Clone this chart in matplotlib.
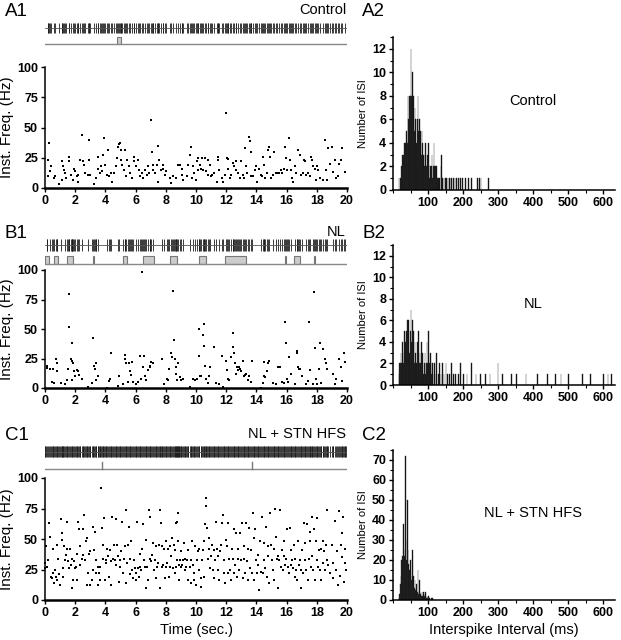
import matplotlib.pyplot as plt
from matplotlib.patches import Rectangle
from matplotlib.ticker import MultipleLocator

plt.rcParams['font.family'] = ['Liberation Sans', 'DejaVu Sans']

# instantaneous frequency points (time s, Hz)
ctrl_pts = [
    (0.17, 10), (0.22, 23), (0.26, 37), (0.33, 14), (0.4, 18), (0.6, 8), (0.65, 10), (0.9, 3), (1.1, 7),
    (1.13, 22), (1.2, 18), (1.24, 15), (1.3, 12), (1.4, 8), (1.57, 26), (1.6, 22), (1.7, 11), (1.85, 7),
    (1.9, 16), (2.0, 14), (2.13, 10), (2.17, 5), (2.2, 11), (2.35, 23), (2.43, 44), (2.5, 22), (2.6, 19),
    (2.67, 12), (2.83, 11), (2.9, 40), (2.93, 23), (3.0, 11), (3.26, 3), (3.37, 8), (3.48, 16), (3.54, 26),
    (3.63, 12), (3.7, 18), (3.8, 14), (3.87, 27), (3.9, 41), (3.96, 19), (4.1, 11), (4.17, 31), (4.24, 10),
    (4.35, 12), (4.46, 5), (4.57, 12), (4.67, 18), (4.74, 25), (4.83, 34), (4.9, 36), (4.96, 37), (5.0, 31),
    (5.04, 23), (5.1, 19), (5.2, 15), (5.33, 31), (5.37, 10), (5.43, 23), (5.54, 18), (5.65, 12), (5.76, 8),
    (5.87, 26), (5.9, 22), (6.04, 18), (6.13, 23), (6.2, 15), (6.3, 10), (6.4, 12), (6.5, 8), (6.63, 15),
    (6.74, 11), (6.8, 18), (6.9, 12), (7.0, 56), (7.07, 30), (7.13, 19), (7.17, 15), (7.28, 12), (7.4, 19),
    (7.46, 35), (7.5, 5), (7.57, 23), (7.65, 15), (7.8, 16), (7.83, 19), (7.93, 11), (8.04, 14), (8.26, 8),
    (8.37, 4), (8.48, 10), (8.7, 8), (8.8, 19), (8.95, 19), (9.05, 16), (9.1, 11), (9.16, 7), (9.38, 10),
    (9.5, 19), (9.6, 27), (9.67, 34), (9.71, 8), (9.82, 18), (9.89, 12), (9.98, 7), (10.04, 22), (10.11, 25),
    (10.15, 15), (10.26, 19), (10.33, 16), (10.37, 25), (10.48, 15), (10.6, 25), (10.64, 14), (10.77, 11),
    (10.81, 23), (10.92, 19), (10.99, 10), (11.08, 11), (11.2, 12), (11.36, 5), (11.43, 23), (11.47, 26),
    (11.54, 15), (11.7, 8), (11.8, 5), (11.91, 11), (11.98, 62), (12.02, 25), (12.09, 24), (12.13, 16),
    (12.24, 8), (12.35, 11), (12.46, 21), (12.53, 18), (12.64, 15), (12.68, 22), (12.79, 12), (12.9, 8),
    (12.97, 22), (13.12, 11), (13.19, 8), (13.23, 33), (13.34, 18), (13.41, 12), (13.49, 42), (13.58, 39),
    (13.63, 30), (13.67, 10), (13.78, 10), (13.89, 15), (14.0, 18), (14.07, 5), (14.15, 16), (14.29, 11),
    (14.37, 10), (14.44, 26), (14.51, 19), (14.59, 8), (14.73, 12), (14.77, 31), (14.81, 34), (14.88, 26),
    (14.99, 8), (15.1, 11), (15.16, 30), (15.32, 12), (15.38, 12), (15.47, 12), (15.6, 15), (15.69, 12),
    (15.82, 16), (15.91, 34), (15.98, 25), (16.04, 15), (16.13, 41), (16.2, 23), (16.26, 15), (16.35, 8),
    (16.42, 5), (16.57, 18), (16.64, 12), (16.75, 31), (16.86, 27), (16.97, 11), (17.08, 12), (17.14, 23),
    (17.23, 22), (17.3, 11), (17.41, 12), (17.52, 10), (17.63, 26), (17.67, 23), (17.74, 18), (17.85, 16),
    (17.96, 7), (18.02, 18), (18.11, 15), (18.24, 8), (18.4, 7), (18.55, 40), (18.62, 15), (18.68, 7),
    (18.77, 33), (18.9, 20), (19.0, 34), (19.1, 13), (19.2, 23), (19.3, 8), (19.4, 10), (19.5, 20),
    (19.6, 23), (19.67, 33), (19.9, 13),
]

nl_pts = [
    (0.11, 19), (0.15, 17), (0.33, 16), (0.44, 5), (0.5, 16), (0.59, 4), (0.73, 25), (0.77, 21), (0.81, 14),
    (1.03, 4), (1.32, 3), (1.47, 7), (1.54, 16), (1.58, 80), (1.6, 52), (1.69, 25), (1.76, 38), (1.8, 23),
    (1.83, 21), (1.78, 7), (1.91, 14), (1.98, 10), (2.09, 15), (2.2, 14), (2.27, 11), (2.42, 8), (2.86, 1),
    (3.08, 4), (3.15, 42), (3.23, 19), (3.3, 16), (3.37, 7), (3.41, 21), (3.52, 10), (4.11, 0), (4.25, 6),
    (4.29, 8), (4.4, 30), (4.84, 2), (4.91, 10), (5.17, 3), (5.28, 25), (5.32, 28), (5.39, 21), (5.5, 5),
    (5.57, 21), (5.61, 14), (5.68, 11), (5.79, 22), (5.83, 5), (6.0, 3), (6.16, 5), (6.27, 27), (6.38, 8),
    (6.45, 98), (6.49, 18), (6.56, 27), (6.6, 10), (6.71, 7), (6.82, 15), (6.93, 18), (6.97, 19), (7.04, 22),
    (7.15, 21), (7.77, 25), (7.85, 3), (8.07, 8), (8.14, 7), (8.21, 16), (8.36, 30), (8.43, 26), (8.47, 82),
    (8.51, 41), (8.58, 25), (8.65, 18), (8.69, 12), (8.73, 7), (8.8, 21), (8.91, 9), (9.02, 7), (9.13, 8),
    (9.57, 1), (9.79, 8), (9.95, 7), (10.08, 8), (10.17, 50), (10.23, 27), (10.29, 10), (10.34, 10),
    (10.45, 45), (10.52, 54), (10.56, 36), (10.6, 19), (10.67, 8), (10.78, 4), (10.89, 10), (10.96, 18),
    (11.22, 35), (11.33, 4), (11.55, 3), (11.71, 27), (11.77, 1), (11.99, 23), (12.04, 15), (12.1, 8),
    (12.21, 7), (12.32, 26), (12.43, 47), (12.48, 35), (12.5, 30), (12.56, 21), (12.63, 12), (12.69, 18),
    (12.76, 15), (12.87, 18), (12.94, 16), (12.98, 14), (13.09, 23), (13.16, 10), (13.25, 11), (13.32, 12),
    (13.42, 7), (13.53, 10), (13.64, 5), (13.69, 23), (14.3, 0), (14.41, 4), (14.48, 22), (14.52, 10),
    (14.56, 9), (14.7, 14), (14.74, 21), (14.81, 23), (15.07, 4), (15.29, 3), (15.4, 18), (15.58, 18),
    (15.67, 5), (15.84, 4), (15.89, 56), (15.95, 38), (16.02, 8), (16.06, 5), (16.17, 26), (16.28, 12),
    (16.55, 3), (16.68, 31), (16.72, 30), (16.77, 18), (16.83, 16), (16.9, 16), (17.05, 10), (17.27, 3),
    (17.42, 6), (17.49, 56), (17.56, 15), (17.78, 3), (17.82, 81), (17.87, 34), (17.93, 8), (18.04, 3),
    (18.15, 16), (18.22, 38), (18.31, 4), (18.44, 33), (18.53, 25), (18.59, 21), (18.7, 16), (19.1, 12),
    (19.2, 3), (19.3, 8), (19.5, 25), (19.6, 18), (19.7, 6), (19.8, 30), (19.9, 22),
]

hfs_pts = [
    (0.0, 26), (0.02, 30), (0.07, 44), (0.1, 27), (0.2, 33), (0.29, 63), (0.33, 52), (0.37, 19), (0.44, 18),
    (0.5, 42), (0.55, 22), (0.6, 14), (0.66, 25), (0.73, 19), (0.77, 45), (0.81, 16), (0.88, 34), (0.95, 21),
    (0.99, 12), (1.03, 66), (1.1, 49), (1.12, 55), (1.17, 19), (1.21, 26), (1.25, 44), (1.32, 33), (1.39, 37),
    (1.43, 64), (1.47, 42), (1.54, 32), (1.6, 26), (1.65, 42), (1.69, 29), (1.76, 34), (1.8, 10), (1.87, 16),
    (1.91, 32), (1.98, 26), (2.05, 27), (2.09, 16), (2.13, 38), (2.2, 64), (2.27, 58), (2.31, 44), (2.35, 29),
    (2.42, 34), (2.49, 37), (2.53, 58), (2.57, 70), (2.64, 33), (2.71, 48), (2.75, 12), (2.79, 51), (2.86, 22),
    (2.93, 38), (2.97, 40), (3.01, 12), (3.08, 16), (3.15, 25), (3.19, 60), (3.23, 41), (3.3, 56), (3.37, 22),
    (3.41, 33), (3.48, 12), (3.52, 27), (3.59, 22), (3.63, 16), (3.67, 27), (3.72, 92), (3.76, 59), (3.81, 34),
    (3.85, 45), (3.89, 67), (3.96, 16), (4.03, 33), (4.07, 30), (4.11, 42), (4.18, 36), (4.25, 19), (4.29, 41),
    (4.36, 32), (4.4, 12), (4.47, 68), (4.51, 34), (4.55, 45), (4.62, 33), (4.69, 29), (4.73, 66), (4.77, 45),
    (4.84, 36), (4.91, 15), (4.95, 33), (4.99, 27), (5.06, 40), (5.13, 64), (5.17, 22), (5.21, 34), (5.28, 44),
    (5.35, 14), (5.39, 74), (5.43, 30), (5.5, 45), (5.57, 60), (5.61, 34), (5.65, 21), (5.72, 48), (5.79, 25),
    (5.83, 18), (5.87, 33), (5.94, 26), (6.01, 16), (6.05, 22), (6.09, 64), (6.16, 26), (6.23, 19), (6.27, 38),
    (6.31, 27), (6.38, 25), (6.45, 42), (6.49, 62), (6.53, 33), (6.6, 27), (6.67, 49), (6.71, 10), (6.75, 27),
    (6.82, 16), (6.89, 74), (6.93, 34), (6.97, 68), (7.04, 32), (7.11, 37), (7.15, 47), (7.19, 25), (7.26, 33),
    (7.33, 44), (7.37, 18), (7.41, 27), (7.48, 30), (7.55, 45), (7.59, 10), (7.63, 74), (7.69, 63), (7.72, 27),
    (7.77, 44), (7.81, 29), (7.85, 42), (7.92, 18), (7.99, 48), (8.03, 27), (8.07, 30), (8.14, 42), (8.21, 19),
    (8.25, 44), (8.3, 27), (8.36, 36), (8.43, 51), (8.47, 26), (8.51, 45), (8.58, 22), (8.62, 41), (8.65, 63),
    (8.69, 27), (8.73, 33), (8.76, 64), (8.8, 71), (8.83, 48), (8.85, 16), (8.87, 29), (8.91, 33), (8.98, 27),
    (9.02, 40), (9.07, 29), (9.13, 33), (9.2, 47), (9.24, 25), (9.28, 34), (9.35, 27), (9.42, 33), (9.46, 16),
    (9.5, 41), (9.57, 27), (9.64, 33), (9.68, 14), (9.73, 48), (9.79, 29), (9.86, 22), (9.9, 16), (9.95, 44),
    (10.01, 12), (10.08, 33), (10.12, 40), (10.17, 25), (10.23, 42), (10.3, 11), (10.34, 18), (10.39, 33),
    (10.45, 41), (10.52, 48), (10.56, 19), (10.61, 62), (10.67, 84), (10.69, 77), (10.74, 59), (10.78, 34),
    (10.83, 51), (10.89, 42), (10.96, 26), (11.0, 36), (11.05, 45), (11.11, 25), (11.18, 41), (11.22, 18),
    (11.27, 33), (11.33, 64), (11.4, 42), (11.44, 36), (11.49, 25), (11.55, 16), (11.62, 40), (11.66, 45),
    (11.71, 63), (11.77, 70), (11.84, 22), (11.88, 33), (11.93, 14), (11.99, 49), (12.05, 44), (12.1, 22),
    (12.14, 63), (12.21, 34), (12.27, 25), (12.32, 16), (12.36, 42), (12.43, 34), (12.49, 58), (12.54, 22),
    (12.58, 29), (12.65, 55), (12.71, 19), (12.76, 42), (12.8, 34), (12.87, 25), (12.94, 55), (12.98, 33),
    (13.03, 63), (13.09, 18), (13.16, 44), (13.2, 34), (13.25, 22), (13.31, 63), (13.38, 32), (13.42, 42),
    (13.47, 16), (13.53, 59), (13.6, 26), (13.64, 41), (13.69, 22), (13.75, 71), (13.82, 51), (13.86, 16),
    (13.91, 58), (13.97, 33), (14.04, 22), (14.08, 37), (14.12, 29), (14.19, 8), (14.25, 48), (14.3, 23),
    (14.34, 68), (14.41, 22), (14.48, 33), (14.52, 47), (14.57, 26), (14.63, 60), (14.7, 19), (14.74, 36),
    (14.78, 44), (14.85, 14), (14.92, 71), (14.96, 45), (15.0, 33), (15.07, 25), (15.14, 42), (15.18, 16),
    (15.23, 75), (15.29, 52), (15.36, 34), (15.4, 10), (15.45, 36), (15.51, 33), (15.58, 74), (15.62, 27),
    (15.67, 41), (15.73, 25), (15.8, 36), (15.86, 48), (15.91, 29), (15.98, 34), (16.05, 58), (16.1, 27),
    (16.14, 22), (16.21, 59), (16.27, 29), (16.32, 41), (16.36, 33), (16.43, 26), (16.49, 45), (16.54, 19),
    (16.58, 34), (16.65, 25), (16.71, 16), (16.76, 48), (16.8, 29), (16.87, 33), (16.94, 25), (16.98, 10),
    (17.03, 41), (17.1, 22), (17.14, 63), (17.19, 33), (17.25, 47), (17.31, 25), (17.38, 62), (17.42, 16),
    (17.47, 34), (17.54, 48), (17.58, 56), (17.6, 27), (17.65, 68), (17.71, 36), (17.78, 25), (17.82, 58),
    (17.87, 16), (17.93, 48), (18.0, 33), (18.04, 67), (18.09, 27), (18.15, 41), (18.22, 25), (18.26, 42),
    (18.31, 16), (18.38, 48), (18.44, 30), (18.48, 40), (18.53, 25), (18.59, 45), (18.66, 74), (18.7, 33),
    (18.75, 29), (18.85, 22), (19.0, 45), (19.05, 18), (19.1, 30), (19.2, 65), (19.3, 25), (19.35, 40),
    (19.4, 12), (19.5, 73), (19.55, 20), (19.6, 45), (19.65, 55), (19.7, 35), (19.75, 68), (19.8, 15),
    (19.85, 30), (19.9, 42), (19.95, 25),
]

# burst periods (start s, end s) marked under the spike rasters
ctrl_bursts = [(4.8, 5.0)]
nl_bursts = [(0.0, 0.26), (0.59, 0.86), (1.45, 1.85), (3.17, 3.23), (5.15, 5.41), (6.47, 7.2),
             (8.25, 8.71), (10.2, 10.63), (11.95, 13.33), (15.9, 15.97), (16.5, 16.9), (17.8, 17.9)]
hfs_bursts = [(3.76, 3.76), (13.7, 13.7)]

# ISI histograms: (bin start ms, count), 2 ms bins
ctrl_isi = [
    (16, 1), (20, 1), (24, 2), (26, 3), (28, 3), (30, 2), (32, 4), (34, 4), (36, 3), (38, 5), (40, 4),
    (42, 8), (44, 6), (46, 8), (48, 8), (50, 12), (52, 8), (54, 10), (56, 6), (58, 8), (60, 5), (62, 7),
    (64, 6), (66, 4), (68, 6), (70, 8), (72, 5), (74, 6), (76, 4), (78, 5), (80, 3), (82, 5), (84, 4),
    (86, 3), (88, 2), (90, 3), (92, 4), (94, 2), (96, 2), (98, 3), (100, 4), (102, 2), (104, 1), (106, 2),
    (108, 2), (110, 3), (112, 1), (114, 2), (116, 4), (118, 2), (120, 2), (122, 1), (124, 2), (126, 1),
    (128, 1), (132, 1), (136, 2), (138, 3), (140, 1), (144, 1), (148, 1), (152, 1), (156, 1), (160, 1),
    (164, 1), (166, 1), (172, 1), (176, 1), (180, 1), (186, 1), (192, 1), (198, 1), (206, 1), (214, 1),
    (222, 1), (240, 1), (246, 1), (250, 1), (272, 1),
]

nl_isi = [
    (16, 1), (18, 2), (20, 2), (22, 3), (24, 2), (26, 4), (28, 2), (30, 3), (32, 5), (34, 4), (36, 2),
    (38, 5), (40, 6), (42, 4), (44, 6), (46, 3), (48, 5), (50, 7), (52, 4), (54, 6), (56, 3), (58, 5),
    (60, 2), (62, 4), (64, 3), (66, 2), (68, 4), (70, 3), (72, 5), (74, 2), (76, 3), (78, 2), (80, 4),
    (82, 2), (84, 3), (86, 1), (88, 2), (90, 3), (92, 1), (94, 2), (96, 4), (98, 2), (100, 5), (102, 1),
    (104, 2), (106, 3), (108, 1), (110, 2), (112, 2), (116, 1), (118, 2), (122, 1), (124, 3), (128, 1),
    (132, 2), (136, 1), (140, 2), (144, 1), (150, 2), (154, 1), (160, 1), (166, 2), (172, 1), (178, 1),
    (186, 1), (192, 2), (200, 1), (210, 1), (222, 2), (236, 1), (248, 1), (262, 1), (276, 1), (298, 2),
    (312, 1), (336, 1), (352, 1), (378, 1), (412, 1), (440, 1), (462, 1), (478, 1), (500, 1), (540, 1),
    (562, 1), (600, 1), (612, 1), (622, 1),
]

hfs_isi = [
    (16, 1), (18, 3), (20, 8), (22, 12), (24, 20), (26, 22), (28, 38), (30, 25), (32, 22), (34, 72),
    (36, 30), (38, 20), (40, 50), (42, 25), (44, 18), (46, 15), (48, 20), (50, 12), (52, 10), (54, 25),
    (56, 8), (58, 12), (60, 6), (62, 10), (64, 5), (66, 8), (68, 4), (70, 15), (72, 3), (74, 10), (76, 4),
    (78, 3), (80, 2), (82, 4), (84, 2), (86, 4), (88, 2), (90, 3), (92, 4), (94, 1), (96, 2), (98, 1),
    (100, 2), (104, 1), (108, 1), (112, 1),
]

W, H = 621, 640


def px_axes(fig, left, top, right, bottom):
    return fig.add_axes([left / W, 1 - bottom / H, (right - left) / W, (bottom - top) / H])


def style_axes(ax):
    for side in ('top', 'right'):
        ax.spines[side].set_visible(False)
    ax.spines['left'].set_linewidth(1.1)
    ax.spines['bottom'].set_linewidth(1.1)
    ax.tick_params(direction='out', length=3, width=1, pad=2)
    ax.tick_params(which='minor', direction='out', length=2, width=0.8)
    for lab in ax.get_xticklabels() + ax.get_yticklabels():
        lab.set_fontsize(9)
        lab.set_fontweight('bold')


def raster_panel(ax, pts, bursts):
    times = [p[0] for p in pts]
    ax.vlines(times, 0.52, 0.9, color='#1a1a1a', lw=0.6)
    ax.plot([0, 20], [0.71, 0.71], color='#555555', lw=0.6)
    ax.plot([0, 20], [0.12, 0.12], color='#888888', lw=1.0)
    for a, b in bursts:
        if b - a < 0.02:
            ax.plot([a, a], [0.12, 0.37], color='#777777', lw=1.0)
        else:
            ax.add_patch(Rectangle((a, 0.12), b - a, 0.25, fc='#cccccc', ec='#777777', lw=0.8))
    ax.set_xlim(0, 20)
    ax.set_ylim(0, 1)
    ax.axis('off')


def freq_panel(ax, pts):
    t = [p[0] for p in pts]
    hz = [p[1] for p in pts]
    ax.scatter(t, hz, s=2.5, c='black', marker='s', linewidths=0, clip_on=False)
    ax.set_xlim(0, 20)
    ax.set_ylim(0, 100)
    ax.xaxis.set_major_locator(MultipleLocator(2))
    ax.yaxis.set_major_locator(MultipleLocator(25))
    ax.set_ylabel('Inst. Freq. (Hz)', fontsize=11, labelpad=2)
    style_axes(ax)
    ax.spines['bottom'].set_linewidth(1.8)


def isi_panel(ax, isi, ymax, ystep, text):
    ms = [p[0] for p in isi]
    counts = [p[1] for p in isi]
    ax.bar(ms, counts, width=2, align='edge', color='black', edgecolor='#333333', linewidth=0.3)
    ax.set_xlim(0, 633)
    ax.set_ylim(0, ymax)
    ax.set_xticks([100, 200, 300, 400, 500, 600])
    ax.xaxis.set_minor_locator(MultipleLocator(50))
    ax.yaxis.set_major_locator(MultipleLocator(ystep))
    ax.yaxis.set_minor_locator(MultipleLocator(ystep / 2))
    ax.set_ylabel('Number of ISI', fontsize=8, labelpad=3)
    ax.text(0.63, 0.58, text, transform=ax.transAxes, ha='center', va='center', fontsize=10.5)
    style_axes(ax)


fig = plt.figure(figsize=(W / 100, H / 100), dpi=100)

rows = [
    ('A', 'Control', ctrl_pts, ctrl_bursts, ctrl_isi, 13, 2,
     (20, 47), (67, 188), (37, 190), 12, 10),
    ('B', 'NL', nl_pts, nl_bursts, nl_isi, 13, 2,
     (236, 268), (270, 388), (245, 385), 234, 232),
    ('C', 'NL + STN HFS', hfs_pts, hfs_bursts, hfs_isi, 75, 10,
     (443, 473), (478, 600), (450, 600), 436, 434),
]

for letter, name, pts, bursts, isi, ymax, ystep, r_y, s_y, h_y, lab_y, name_y in rows:
    ax_r = px_axes(fig, 45, r_y[0], 347, r_y[1])
    raster_panel(ax_r, pts, bursts)
    ax_s = px_axes(fig, 45, s_y[0], 347, s_y[1])
    freq_panel(ax_s, pts)
    ax_h = px_axes(fig, 393, h_y[0], 615, h_y[1])
    isi_panel(ax_h, isi, ymax, ystep, name)
    fig.text(5 / W, 1 - lab_y / H, letter + '1', fontsize=13.5, va='center', ha='left')
    fig.text(362 / W, 1 - lab_y / H, letter + '2', fontsize=13.5, va='center', ha='left')
    fig.text(346 / W, 1 - name_y / H, name, fontsize=10.5, va='center', ha='right')
    if letter == 'C':
        ax_s.set_xlabel('Time (sec.)', fontsize=10.5, labelpad=3)
        ax_h.set_xlabel('Interspike Interval (ms)', fontsize=10.5, labelpad=3)

fig.savefig('out.png', dpi=100)
